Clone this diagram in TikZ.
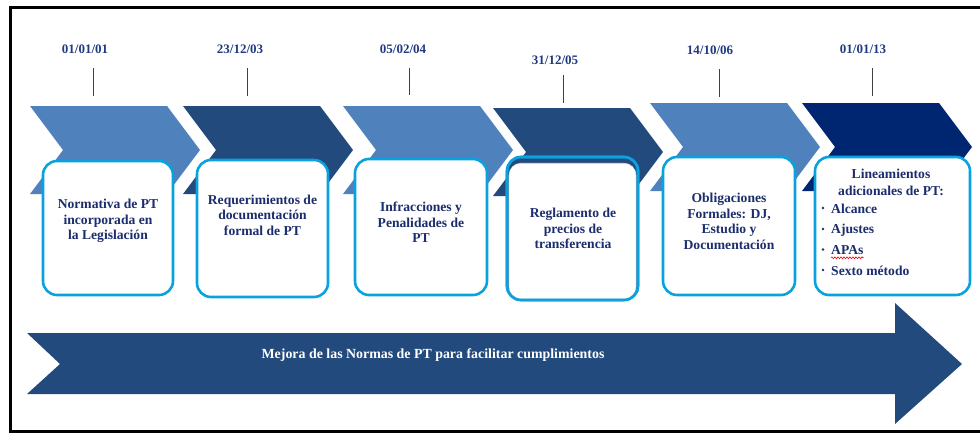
\documentclass[tikz,border=0pt]{standalone}
\usepackage{fontspec}
\setmainfont{Liberation Serif}
\usetikzlibrary{decorations.pathmorphing}
\definecolor{chlight}{HTML}{4F81BD}
\definecolor{chdark}{HTML}{224A7C}
\definecolor{chnavy}{HTML}{002672}
\definecolor{boxline}{HTML}{0AA2DE}
\definecolor{datecol}{HTML}{1F3A80}
\definecolor{txtcol}{HTML}{1B2D6C}
\newcommand\mychevron[3]{\fill[#3] (#1,#2) -- ++(137,0) -- ++(33,44) -- ++(-33,44) -- ++(-137,0) -- ++(33,-44) -- cycle;}
\tikzset{
  datelbl/.style={font=\bfseries\fontsize{13}{15}\selectfont, text=datecol, inner sep=0pt},
  tickline/.style={draw=black!75, line width=0.9pt},
  stagebox/.style={draw=boxline, line width=2.6pt, fill=white, rounded corners=14pt, inner sep=0pt},
  boxtxt/.style={font=\bfseries\fontsize{13.6}{15.5}\selectfont, text=txtcol, align=center, inner sep=0pt},
  itemtxt/.style={font=\bfseries\fontsize{13.6}{15.5}\selectfont, text=txtcol, anchor=west, inner sep=0pt},
  bulletdot/.style={fill=txtcol, circle, inner sep=0pt, minimum size=2.6pt},
}
\begin{document}
\begin{tikzpicture}[x=1pt,y=-1pt]
\useasboundingbox (0,0) rectangle (980,434);
% frame
\draw[black, line width=3.5pt] (990,7.5) -- (10.5,7.5) -- (10.5,431.5) -- (990,431.5);
% chevrons
\mychevron{30}{106}{chlight}
\mychevron{183}{106}{chdark}
\mychevron{343}{106}{chlight}
\mychevron{493}{108}{chdark}
\mychevron{650}{103}{chlight}
\mychevron{802}{103}{chnavy}
% dates
\node[datelbl] (d1) at (85,49) {01/01/01};
\node[datelbl] (d2) at (240,49) {23/12/03};
\node[datelbl] (d3) at (403,49) {05/02/04};
\node[datelbl] (d4) at (555,60) {31/12/05};
\node[datelbl] (d5) at (710,50) {14/10/06};
\node[datelbl] (d6) at (863,49) {01/01/13};
\coordinate (k1a) at (93,68);  \coordinate (k1b) at (93,96);
\coordinate (k2a) at (247,68); \coordinate (k2b) at (247,96);
\coordinate (k3a) at (409,68); \coordinate (k3b) at (409,95);
\coordinate (k4a) at (563,75); \coordinate (k4b) at (563,103);
\coordinate (k5a) at (719,69); \coordinate (k5b) at (719,97);
\coordinate (k6a) at (872,68); \coordinate (k6b) at (872,96);
\draw[tickline] (k1a) -- (k1b);
\draw[tickline] (k2a) -- (k2b);
\draw[tickline] (k3a) -- (k3b);
\draw[tickline] (k4a) -- (k4b);
\draw[tickline] (k5a) -- (k5b);
\draw[tickline] (k6a) -- (k6b);
% boxes
\node[stagebox, minimum width=130pt, minimum height=134pt] (b1) at (108,228) {};
\node[stagebox, minimum width=131pt, minimum height=137pt] (b2) at (262.5,228.5) {};
\node[stagebox, minimum width=132pt, minimum height=136pt] (b3) at (421,227) {};
\node[stagebox, fill=chdark, minimum width=131pt, minimum height=143pt] (b4) at (572.5,228.5) {};
\node[draw=black!12, line width=0.6pt, fill=white, rounded corners=12pt, minimum width=127pt, minimum height=135.5pt, inner sep=0pt] (b4in) at (572.5,231) {};
\node[stagebox, fill=none, minimum width=131pt, minimum height=143pt] (b4b) at (572.5,228.5) {};
\node[stagebox, minimum width=132pt, minimum height=138pt] (b5) at (729,226) {};
\node[stagebox, minimum width=155pt, minimum height=138pt] (b6) at (892.5,226) {};
% box texts
\node[boxtxt] (t1) at (108,221) {Normativa de PT\\incorporada en\\la Legislación};
\node[boxtxt] (t2) at (262.5,215) {Requerimientos de\\documentación\\formal de PT};
\node[boxtxt] (t3) at (421,222.5) {Infracciones y\\Penalidades de\\PT};
\node[boxtxt] (t4) at (573,228.5) {Reglamento de\\precios de\\transferencia};
\node[boxtxt] (t5) at (729,221.5) {Obligaciones\\Formales: DJ,\\Estudio y\\Documentación};
\node[boxtxt, font=\bfseries\fontsize{13.6}{16.5}\selectfont] (t6) at (891,182.5) {Lineamientos\\adicionales de PT:};
\node[itemtxt] (i1) at (831,209) {Alcance};
\node[itemtxt] (i2) at (831,230) {Ajustes};
\node[itemtxt] (i3) at (831,250.5) {APAs};
\node[itemtxt] (i4) at (831,271) {Sexto método};
\node[bulletdot] (p1) at (823,208) {};
\node[bulletdot] (p2) at (823,229) {};
\node[bulletdot] (p3) at (823,249.5) {};
\node[bulletdot] (p4) at (823,270) {};
\draw[red, line width=0.6pt, decorate, decoration={snake, amplitude=0.9pt, segment length=3pt}] ([yshift=-2.5pt]i3.south west) -- ([yshift=-2.5pt]i3.south east);
% bottom arrow
\fill[chdark] (27,333) -- (895,333) -- (895,303) -- (962,364) -- (895,424) -- (895,394) -- (27,394) -- (60,364) -- cycle;
\node[font=\bfseries\fontsize{13.9}{15}\selectfont, text=white, inner sep=0pt] (m) at (433,355) {Mejora de las Normas de PT para facilitar cumplimientos};
\end{tikzpicture}
\end{document}
